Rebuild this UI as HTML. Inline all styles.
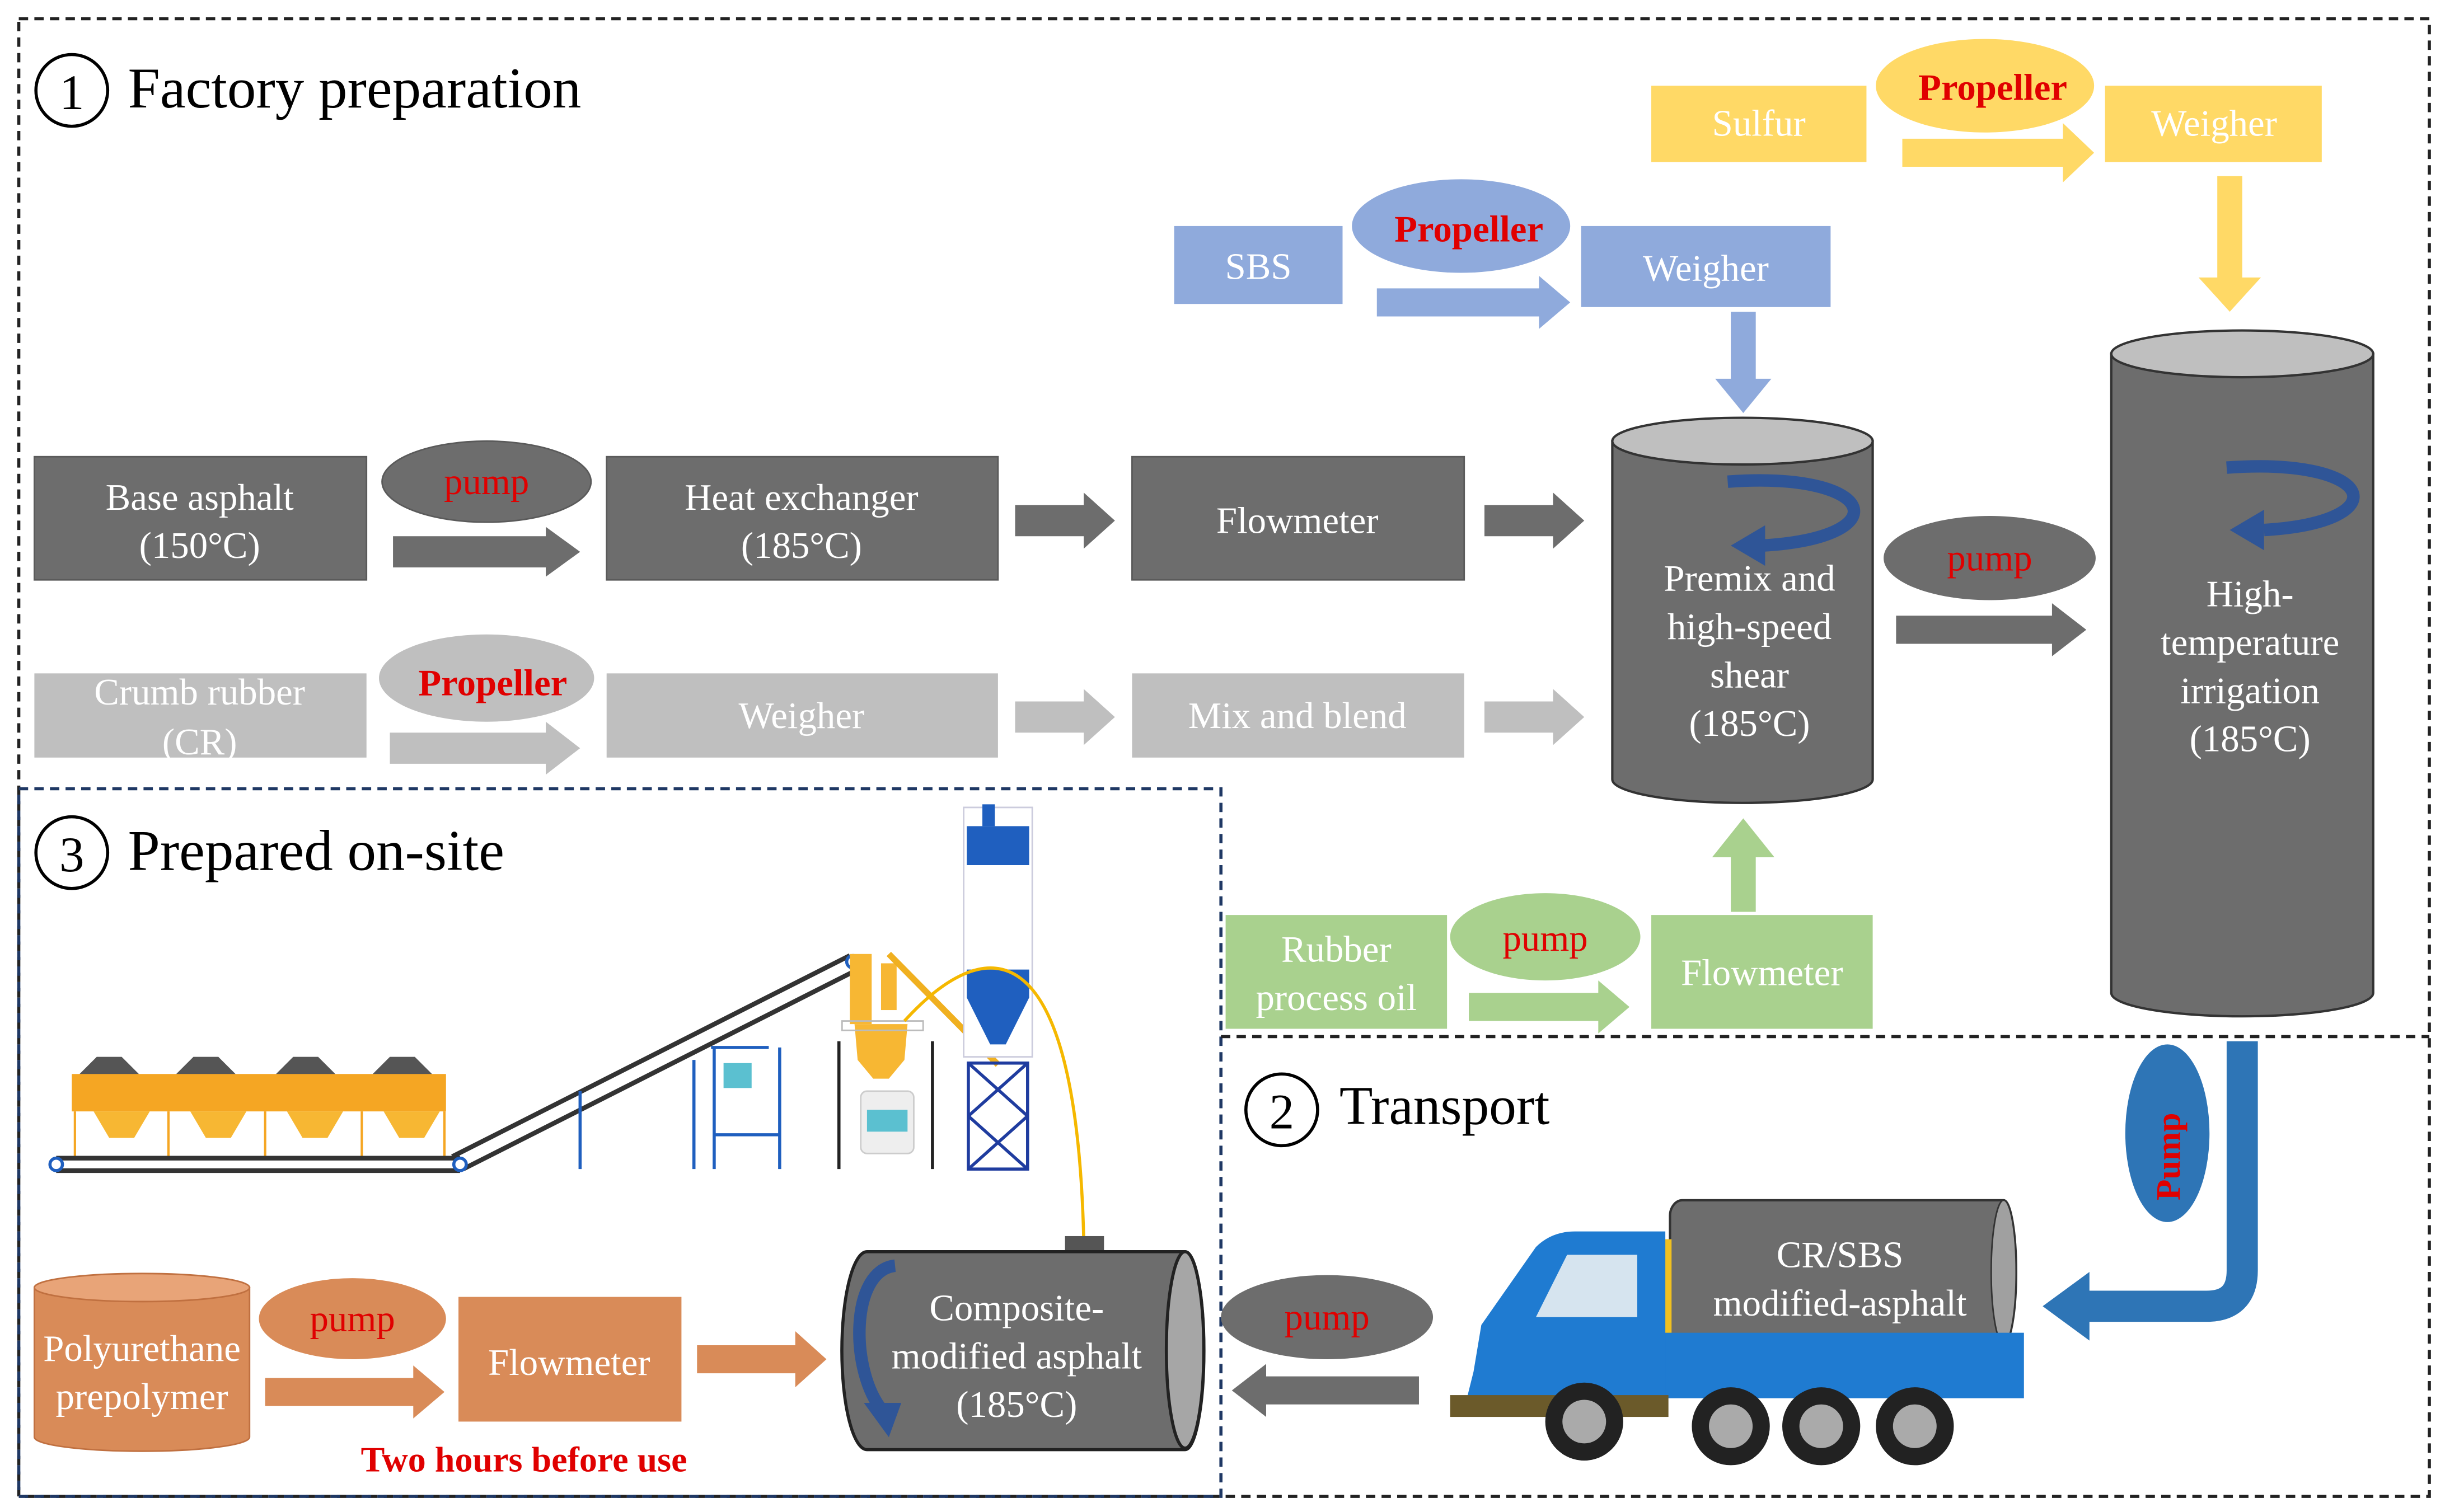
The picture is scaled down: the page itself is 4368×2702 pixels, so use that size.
<!DOCTYPE html>
<html><head><meta charset="utf-8"><style>
html,body{margin:0;padding:0;background:#fff;}
svg{display:block;}
text{font-family:"Liberation Serif",serif;}
</style></head><body>
<svg width="4368" height="2702" viewBox="0 0 1568 970" xmlns="http://www.w3.org/2000/svg">
<rect width="1568" height="970" fill="#fff"/>
<!-- borders -->
<rect x="12" y="12" width="1546" height="948" fill="none" stroke="#222" stroke-width="2" stroke-dasharray="6,4"/>
<rect x="12" y="506" width="771" height="454" fill="none" stroke="#1f3864" stroke-width="2" stroke-dasharray="6,4"/>
<line x1="783" y1="665" x2="1558" y2="665" stroke="#222" stroke-width="2" stroke-dasharray="6,4"/>

<!-- titles -->
<circle cx="46" cy="58" r="23" fill="none" stroke="#000" stroke-width="2"/>
<text x="46" y="70" font-size="32" text-anchor="middle">1</text>
<text x="82" y="69" font-size="37">Factory preparation</text>
<circle cx="46" cy="547" r="23" fill="none" stroke="#000" stroke-width="2"/>
<text x="46" y="559" font-size="32" text-anchor="middle">3</text>
<text x="82" y="558" font-size="37">Prepared on-site</text>
<circle cx="822" cy="712" r="23" fill="none" stroke="#000" stroke-width="2"/>
<text x="822" y="724" font-size="32" text-anchor="middle">2</text>
<text x="859" y="721" font-size="35">Transport</text>

<!-- base asphalt row -->
<g fill="#6d6d6d" stroke="#5a5a5a" stroke-width="1">
<rect x="22" y="293" width="213" height="79"/>
<rect x="389" y="293" width="251" height="79"/>
<rect x="726" y="293" width="213" height="79"/>
<ellipse cx="312" cy="309" rx="67" ry="26"/>
</g>
<g fill="#6d6d6d">
<polygon points="252,344 350,344 350,338 372,354 350,370 350,364 252,364"/>
<polygon points="651,324 695,324 695,316 715,334 695,352 695,344 651,344"/>
<polygon points="952,324 996,324 996,316 1016,334 996,352 996,344 952,344"/>
<polygon points="1216,395 1316,395 1316,387 1338,404 1316,421 1316,413 1216,413"/>
<ellipse cx="1276" cy="358" rx="68" ry="27"/>
</g>
<g fill="#fff" font-size="24" text-anchor="middle">
<text x="128" y="327">Base asphalt</text><text x="128" y="358">(150°C)</text>
<text x="514" y="327">Heat exchanger</text><text x="514" y="358">(185°C)</text>
<text x="832" y="342">Flowmeter</text>
</g>
<text x="312" y="317" font-size="24" fill="#e00000" text-anchor="middle">pump</text>
<text x="1276" y="366" font-size="24" fill="#e00000" text-anchor="middle">pump</text>

<!-- crumb rubber row -->
<g fill="#bfbfbf">
<rect x="22" y="432" width="213" height="54"/>
<rect x="389" y="432" width="251" height="54"/>
<rect x="726" y="432" width="213" height="54"/>
<ellipse cx="312" cy="435" rx="69" ry="28"/>
<polygon points="250,470 350,470 350,463 372,480 350,497 350,490 250,490"/>
<polygon points="651,450 695,450 695,442 715,460 695,478 695,470 651,470"/>
<polygon points="952,450 996,450 996,442 1016,460 996,478 996,470 952,470"/>
</g>
<g fill="#fff" font-size="24" text-anchor="middle">
<text x="128" y="452">Crumb rubber</text><text x="128" y="484">(CR)</text>
<text x="514" y="467">Weigher</text>
<text x="832" y="467">Mix and blend</text>
</g>
<text x="316" y="446" font-size="24" font-weight="bold" fill="#e00000" text-anchor="middle">Propeller</text>

<!-- SBS row -->
<g fill="#8faadc">
<rect x="753" y="145" width="108" height="50"/>
<rect x="1014" y="145" width="160" height="52"/>
<ellipse cx="937" cy="145" rx="70" ry="30"/>
<polygon points="883,185 987,185 987,177 1007,194 987,211 987,203 883,203"/>
<polygon points="1110,200 1126,200 1126,243 1136,243 1118,265 1100,243 1110,243"/>
</g>
<g fill="#fff" font-size="24" text-anchor="middle">
<text x="807" y="179">SBS</text><text x="1094" y="180">Weigher</text>
</g>
<text x="942" y="155" font-size="24" font-weight="bold" fill="#e00000" text-anchor="middle">Propeller</text>

<!-- Sulfur row -->
<g fill="#ffd966">
<rect x="1059" y="55" width="138" height="49"/>
<rect x="1350" y="55" width="139" height="49"/>
<ellipse cx="1273" cy="55" rx="70" ry="30"/>
<polygon points="1220,89 1323,89 1323,79 1343,98 1323,117 1323,107 1220,107"/>
<polygon points="1422,113 1438,113 1438,178 1450,178 1430,200 1410,178 1422,178"/>
</g>
<g fill="#fff" font-size="24" text-anchor="middle">
<text x="1128" y="87">Sulfur</text><text x="1420" y="87">Weigher</text>
</g>
<text x="1278" y="64" font-size="24" font-weight="bold" fill="#e00000" text-anchor="middle">Propeller</text>

<!-- premix cylinder -->
<path d="M1034,283 L1034,500 A83,15 0 0 0 1201,500 L1201,283 Z" fill="#6d6d6d" stroke="#333" stroke-width="1.5"/>
<ellipse cx="1117.5" cy="283" rx="83.5" ry="15" fill="#bfbfbf" stroke="#333" stroke-width="1.5"/>
<g fill="#fff" font-size="24" text-anchor="middle">
<text x="1122" y="379">Premix and</text><text x="1122" y="410">high-speed</text><text x="1122" y="441">shear</text><text x="1122" y="472">(185°C)</text>
</g>
<path d="M1108,309 C1205,302 1218,345 1130,350" fill="none" stroke="#2f5597" stroke-width="8"/>
<polygon points="1110,350 1132,337 1132,363" fill="#2f5597"/>

<!-- tall cylinder -->
<path d="M1354,227 L1354,637 A84,15 0 0 0 1522,637 L1522,227 Z" fill="#6d6d6d" stroke="#333" stroke-width="1.5"/>
<ellipse cx="1438" cy="227" rx="84" ry="15" fill="#bfbfbf" stroke="#333" stroke-width="1.5"/>
<g fill="#fff" font-size="24" text-anchor="middle">
<text x="1443" y="389">High-</text><text x="1443" y="420">temperature</text><text x="1443" y="451">irrigation</text><text x="1443" y="482">(185°C)</text>
</g>
<path d="M1428,300 C1525,293 1538,335 1452,340" fill="none" stroke="#2f5597" stroke-width="8"/>
<polygon points="1430,340 1452,327 1452,353" fill="#2f5597"/>

<!-- green row -->
<g fill="#a9d18e">
<rect x="786" y="587" width="142" height="73"/>
<rect x="1059" y="587" width="142" height="73"/>
<ellipse cx="991" cy="601" rx="61" ry="28"/>
<polygon points="942,637 1025,637 1025,629 1045,646 1025,663 1025,655 942,655"/>
<polygon points="1110,585 1126,585 1126,550 1138,550 1118,525 1098,550 1110,550"/>
</g>
<g fill="#fff" font-size="24" text-anchor="middle">
<text x="857" y="617">Rubber</text><text x="857" y="648">process oil</text>
<text x="1130" y="632">Flowmeter</text>
</g>
<text x="991" y="610" font-size="24" fill="#e00000" text-anchor="middle">pump</text>

<!-- transport pipe -->
<path d="M1438,668 L1438,815 Q1438,838 1415,838 L1338,838" fill="none" stroke="#2e75b6" stroke-width="20"/>
<polygon points="1340,816 1310,838 1340,860" fill="#2e75b6"/>
<ellipse cx="1390" cy="727" rx="27" ry="57" fill="#2e75b6"/>
<text x="0" y="0" font-size="22" font-weight="bold" fill="#e00000" text-anchor="middle" transform="translate(1398,742) rotate(-90)">Pump</text>

<!-- truck -->
<path d="M1071,780 L1071,855 A8,8 0 0 0 1079,862 L1285,862 A8,46 0 0 0 1285,770 L1079,770 A8,10 0 0 0 1071,780 Z" fill="#6d6d6d" stroke="#333" stroke-width="1.5"/>
<ellipse cx="1285" cy="816" rx="8" ry="46" fill="#a0a0a0" stroke="#333"/>
<rect x="1062" y="795" width="10" height="65" fill="#f0c020"/>
<g fill="#fff" font-size="24" text-anchor="middle">
<text x="1180" y="813">CR/SBS</text><text x="1180" y="844">modified-asphalt</text>
</g>
<rect x="1062" y="855" width="236" height="42" fill="#1f7bd1"/>
<path d="M945,880 L950,850 L985,800 Q995,790 1010,790 L1068,790 L1068,900 L940,900 Z" fill="#1f7bd1"/>
<path d="M985,845 L1005,805 L1050,805 L1050,845 Z" fill="#d6e4ef"/>
<rect x="930" y="895" width="140" height="14" fill="#6b5a2a"/>
<g>
<circle cx="1016" cy="912" r="25" fill="#222"/><circle cx="1016" cy="912" r="14" fill="#aaa"/>
<circle cx="1110" cy="915" r="25" fill="#222"/><circle cx="1110" cy="915" r="14" fill="#aaa"/>
<circle cx="1168" cy="915" r="25" fill="#222"/><circle cx="1168" cy="915" r="14" fill="#aaa"/>
<circle cx="1228" cy="915" r="25" fill="#222"/><circle cx="1228" cy="915" r="14" fill="#aaa"/>
</g>
<ellipse cx="851" cy="845" rx="68" ry="27" fill="#6d6d6d"/>
<text x="851" y="853" font-size="24" fill="#e00000" text-anchor="middle">pump</text>
<polygon points="910,883 812,883 812,875 790,892 812,909 812,901 910,901" fill="#6d6d6d"/>

<!-- plant illustration -->
<g>
<g fill="#555"><path d="M50,690 L62,678 L78,678 L90,690Z"/><path d="M112,690 L124,678 L140,678 L152,690Z"/><path d="M176,690 L188,678 L204,678 L216,690Z"/><path d="M238,690 L250,678 L266,678 L278,690Z"/></g>
<rect x="46" y="689" width="240" height="24" fill="#f5a623"/>
<g fill="#f7b733"><path d="M60,713 L96,713 L86,730 L70,730Z"/><path d="M122,713 L158,713 L148,730 L132,730Z"/><path d="M184,713 L220,713 L210,730 L194,730Z"/><path d="M246,713 L282,713 L272,730 L256,730Z"/></g>
<g stroke="#f5a623" stroke-width="1.5"><line x1="48" y1="713" x2="48" y2="743"/><line x1="108" y1="713" x2="108" y2="743"/><line x1="170" y1="713" x2="170" y2="743"/><line x1="232" y1="713" x2="232" y2="743"/><line x1="285" y1="713" x2="285" y2="743"/></g>
<g stroke="#333" stroke-width="3" fill="none"><line x1="36" y1="743" x2="295" y2="743"/><line x1="36" y1="751" x2="295" y2="751"/><line x1="290" y1="742" x2="545" y2="613"/><line x1="297" y1="750" x2="550" y2="622"/></g>
<circle cx="36" cy="747" r="4" fill="#fff" stroke="#1f5fbf" stroke-width="2"/>
<circle cx="295" cy="747" r="4" fill="#fff" stroke="#1f5fbf" stroke-width="2"/>
<circle cx="547" cy="617" r="4" fill="#fff" stroke="#1f5fbf" stroke-width="2"/>
<g stroke="#1f5fbf" stroke-width="2"><line x1="372" y1="700" x2="372" y2="750"/><line x1="445" y1="680" x2="445" y2="750"/><line x1="458" y1="672" x2="458" y2="750"/><line x1="500" y1="672" x2="500" y2="750"/><line x1="456" y1="672" x2="493" y2="672"/><line x1="458" y1="728" x2="500" y2="728"/></g>
<rect x="464" y="682" width="18" height="16" fill="#5bc0d0"/>
<g fill="#f7b733"><rect x="545" y="612" width="14" height="45"/><rect x="565" y="618" width="10" height="30"/><path d="M548,657 L582,657 L580,680 L570,692 L560,692 L550,680Z"/></g>
<rect x="540" y="655" width="52" height="6" fill="none" stroke="#bbb"/>
<line x1="570" y1="612" x2="640" y2="683" stroke="#f0b020" stroke-width="4"/>
<rect x="552" y="700" width="34" height="40" rx="4" fill="#eee" stroke="#ccc"/>
<rect x="556" y="712" width="26" height="14" fill="#5bc0d0"/>
<g stroke="#222" stroke-width="2"><line x1="538" y1="668" x2="538" y2="750"/><line x1="598" y1="668" x2="598" y2="750"/></g>
<rect x="618" y="518" width="44" height="160" fill="#fff" stroke="#ccd" stroke-width="1"/>
<rect x="630" y="516" width="8" height="14" fill="#1f5fbf"/>
<path d="M620,530 L660,530 L660,555 L620,555Z" fill="#1f5fbf"/>
<path d="M620,622 L660,622 L660,640 L645,670 L635,670 L620,640Z" fill="#1f5fbf"/>
<g stroke="#1f3c9f" stroke-width="2" fill="none"><rect x="621" y="682" width="38" height="68"/><line x1="621" y1="682" x2="659" y2="716"/><line x1="659" y1="682" x2="621" y2="716"/><line x1="621" y1="716" x2="659" y2="750"/><line x1="659" y1="716" x2="621" y2="750"/></g>
<path d="M580,655 C630,600 690,590 695,795" fill="none" stroke="#f5b800" stroke-width="2"/>
</g>

<!-- composite tank -->
<rect x="683" y="793" width="25" height="10" fill="#555"/>
<path d="M556,803 L760,803 A12,63 0 0 1 760,930 L556,930 A16,63 0 0 1 556,803 Z" fill="#6d6d6d" stroke="#222" stroke-width="2"/>
<ellipse cx="760" cy="866" rx="12" ry="63" fill="#a6a6a6" stroke="#222" stroke-width="2"/>
<path d="M574,812 C545,815 545,880 566,905" fill="none" stroke="#2f5597" stroke-width="8"/>
<polygon points="554,900 578,900 570,922" fill="#2f5597"/>
<g fill="#fff" font-size="24" text-anchor="middle">
<text x="652" y="847">Composite-</text><text x="652" y="878">modified asphalt</text><text x="652" y="909">(185°C)</text>
</g>

<!-- polyurethane row -->
<path d="M22,826 L22,922 A69,9 0 0 0 160,922 L160,826 Z" fill="#d98b58" stroke="#c07040"/>
<ellipse cx="91" cy="826" rx="69" ry="9" fill="#e8a478" stroke="#c07040"/>
<g fill="#fff" font-size="24" text-anchor="middle">
<text x="91" y="873">Polyurethane</text><text x="91" y="904">prepolymer</text>
</g>
<ellipse cx="226" cy="846" rx="60" ry="26" fill="#d98b58"/>
<text x="226" y="854" font-size="24" fill="#e00000" text-anchor="middle">pump</text>
<polygon points="170,884 265,884 265,876 285,893 265,910 265,902 170,902" fill="#d98b58"/>
<rect x="294" y="832" width="143" height="80" fill="#d98b58"/>
<text x="365" y="882" font-size="24" fill="#fff" text-anchor="middle">Flowmeter</text>
<polygon points="447,863 510,863 510,854 530,872 510,890 510,881 447,881" fill="#d98b58"/>
<text x="336" y="944" font-size="23" font-weight="bold" fill="#e00000" text-anchor="middle">Two hours before use</text>
</svg>
</body></html>
